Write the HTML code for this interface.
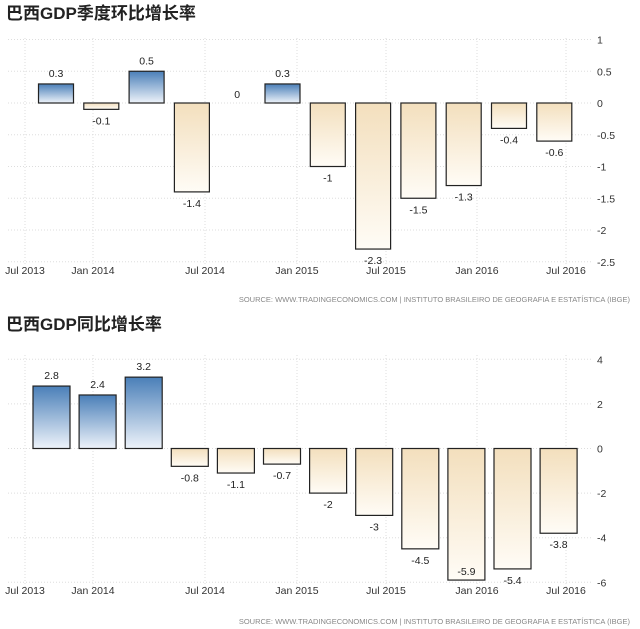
<!DOCTYPE html><html><head><meta charset="utf-8"><style>
body{margin:0;background:#fff;width:640px;height:629px;overflow:hidden}
svg{display:block}
</style></head><body>
<svg id="s" width="640" height="629" xmlns="http://www.w3.org/2000/svg" font-family="Liberation Sans, DejaVu Sans, sans-serif">
<defs>
<linearGradient id="bl" x1="0" y1="0" x2="0" y2="1"><stop offset="0" stop-color="#4a7fb8"/><stop offset="1" stop-color="#eef3fa"/></linearGradient>
<linearGradient id="or" x1="0" y1="0" x2="0" y2="1"><stop offset="0" stop-color="#f3dfbd"/><stop offset="1" stop-color="#fffcf6"/></linearGradient>
</defs>
<text x="6" y="19" font-size="17" font-weight="bold" fill="#222" font-family="Liberation Sans, Noto Sans CJK SC, sans-serif">巴西GDP季度环比增长率</text>
<text x="6" y="330" font-size="17" font-weight="bold" fill="#222" font-family="Liberation Sans, Noto Sans CJK SC, sans-serif">巴西GDP同比增长率</text>
<text x="630" y="302" font-size="7.5" fill="#888" text-anchor="end">SOURCE: WWW.TRADINGECONOMICS.COM | INSTITUTO BRASILEIRO DE GEOGRAFIA E ESTATÍSTICA (IBGE)</text>
<text x="630" y="624" font-size="7.5" fill="#888" text-anchor="end">SOURCE: WWW.TRADINGECONOMICS.COM | INSTITUTO BRASILEIRO DE GEOGRAFIA E ESTATÍSTICA (IBGE)</text>
<g id="g"></g>
</svg>
<script>
var g=document.getElementById('g'),h='';
function chart(o){
 var y=v=>o.z-v*o.k;
 o.ticks.forEach(t=>{h+=`<line x1="8" x2="592" y1="${y(t)}" y2="${y(t)}" stroke="#ddd" stroke-dasharray="1,2"/>`;
  h+=`<text x="597" y="${y(t)+4}" font-size="10.5" fill="#333">${t}</text>`;});
 var xs=[25,93,205,297,386,477,566],lb=['Jul 2013','Jan 2014','Jul 2014','Jan 2015','Jul 2015','Jan 2016','Jul 2016'];
 xs.forEach((x,i)=>{h+=`<line x1="${x}" x2="${x}" y1="${o.top}" y2="${o.bot}" stroke="#ddd" stroke-dasharray="1,2"/>`;
  h+=`<text x="${x}" y="${o.ly}" font-size="10.5" fill="#333" text-anchor="middle">${lb[i]}</text>`;});
 o.v.forEach((v,i)=>{var c=o.c0+i*o.sp,x=c-o.w/2;
  if(v!=0){var t=Math.min(y(v),o.z),hh=Math.abs(v)*o.k;
   h+=`<rect x="${x}" y="${t}" width="${o.w}" height="${Math.max(hh,3)}" fill="url(#${v>0?'bl':'or'})" stroke="#222" stroke-width="1.2"/>`;}
  var ty=v>0?y(v)-7:(v<0?y(v)+15:o.z-5);
  if(o.inside&&o.inside[i])ty=y(v)-5;
  h+=`<text x="${c}" y="${ty}" font-size="10.5" fill="#222" text-anchor="middle">${v}</text>`;});
}
chart({z:103,k:63.5,ticks:[1,0.5,0,-0.5,-1,-1.5,-2,-2.5],top:38,bot:265,ly:274,c0:56,sp:45.3,w:35,
 v:[0.3,-0.1,0.5,-1.4,0,0.3,-1,-2.3,-1.5,-1.3,-0.4,-0.6]});
chart({z:448.5,k:22.3,ticks:[4,2,0,-2,-4,-6],top:355,bot:590,ly:594,c0:51.5,sp:46.1,w:37,
 v:[2.8,2.4,3.2,-0.8,-1.1,-0.7,-2,-3,-4.5,-5.9,-5.4,-3.8],inside:{9:1}});
g.innerHTML=h;
</script>
</body></html>
